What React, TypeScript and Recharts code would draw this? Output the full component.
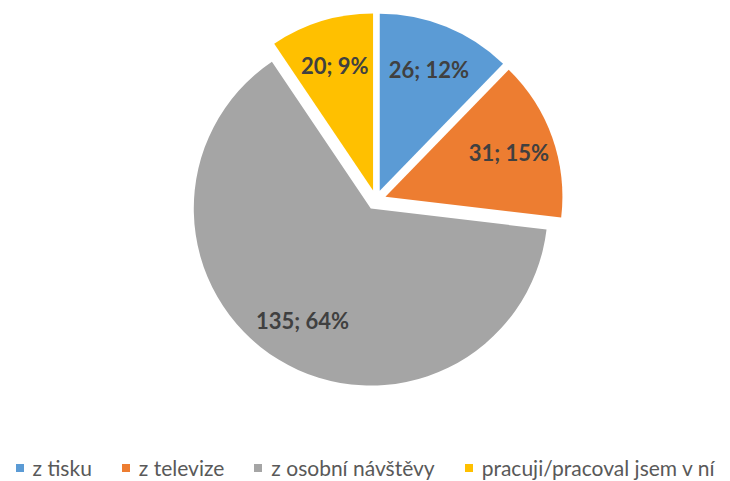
import React from 'react';
import { PieChart, Pie, Cell, Legend, Sector } from 'recharts';

const categories = ['z tisku', 'z televize', 'z osobní návštěvy', 'pracuji/pracoval jsem v ní'];
const counts = [26, 31, 135, 20];
const percents = [12, 15, 64, 9];
const colors = ['#5B9BD5', '#ED7D31', '#A5A5A5', '#FFC000'];

const chartData = categories.map((name, i) => ({
  name,
  value: counts[i],
  pct: percents[i],
}));

const RAD = Math.PI / 180;
const EXPLODE = 10;
const FONT = "Lato, 'Noto Sans', sans-serif";

const ExplodedSector = (props: any) => {
  const { cx, cy, midAngle } = props;
  const dx = Math.cos(-midAngle * RAD) * EXPLODE;
  const dy = Math.sin(-midAngle * RAD) * EXPLODE;
  return <Sector {...props} cx={cx + dx} cy={cy + dy} stroke="none" />;
};

const renderLabel = (props: any) => {
  const { cx, cy, midAngle, outerRadius, index } = props;
  const r = outerRadius * 0.74 + EXPLODE;
  const x = cx + Math.cos(-midAngle * RAD) * r;
  const y = cy + Math.sin(-midAngle * RAD) * r;
  return (
    <text
      x={x}
      y={y}
      fill="#404040"
      textAnchor="middle"
      dominantBaseline="central"
      fontFamily={FONT}
      fontWeight="bold"
      fontSize={22}
    >
      {`${counts[index]}; ${percents[index]}%`}
    </text>
  );
};

const LegendContent = () => (
  <div
    style={{
      display: 'flex',
      justifyContent: 'center',
      alignItems: 'center',
      gap: 30,
      fontFamily: FONT,
      fontSize: 21,
      color: '#595959',
      lineHeight: '24px',
    }}
  >
    {categories.map((name, i) => (
      <div key={name} style={{ display: 'flex', alignItems: 'center', gap: 9 }}>
        <span style={{ width: 8, height: 8, background: colors[i], display: 'inline-block' }} />
        <span>{name}</span>
      </div>
    ))}
  </div>
);

const App: React.FC = () => {
  return (
    <div style={{ position: 'absolute', left: 0, top: 0, background: '#fff' }}>
      <PieChart width={730} height={481} margin={{ top: 0, right: 0, bottom: 0, left: 0 }}>
        <Pie
          data={chartData}
          dataKey="value"
          nameKey="name"
          cx={376}
          cy={200}
          outerRadius={177}
          startAngle={90}
          endAngle={-270}
          shape={ExplodedSector}
          label={renderLabel}
          labelLine={false}
          isAnimationActive={false}
        >
          {chartData.map((d, i) => (
            <Cell key={d.name} fill={colors[i]} />
          ))}
        </Pie>
        <Legend
          verticalAlign="bottom"
          align="center"
          content={LegendContent}
          wrapperStyle={{ bottom: 1, left: 0, width: 730 }}
        />
      </PieChart>
    </div>
  );
};

export default App;
